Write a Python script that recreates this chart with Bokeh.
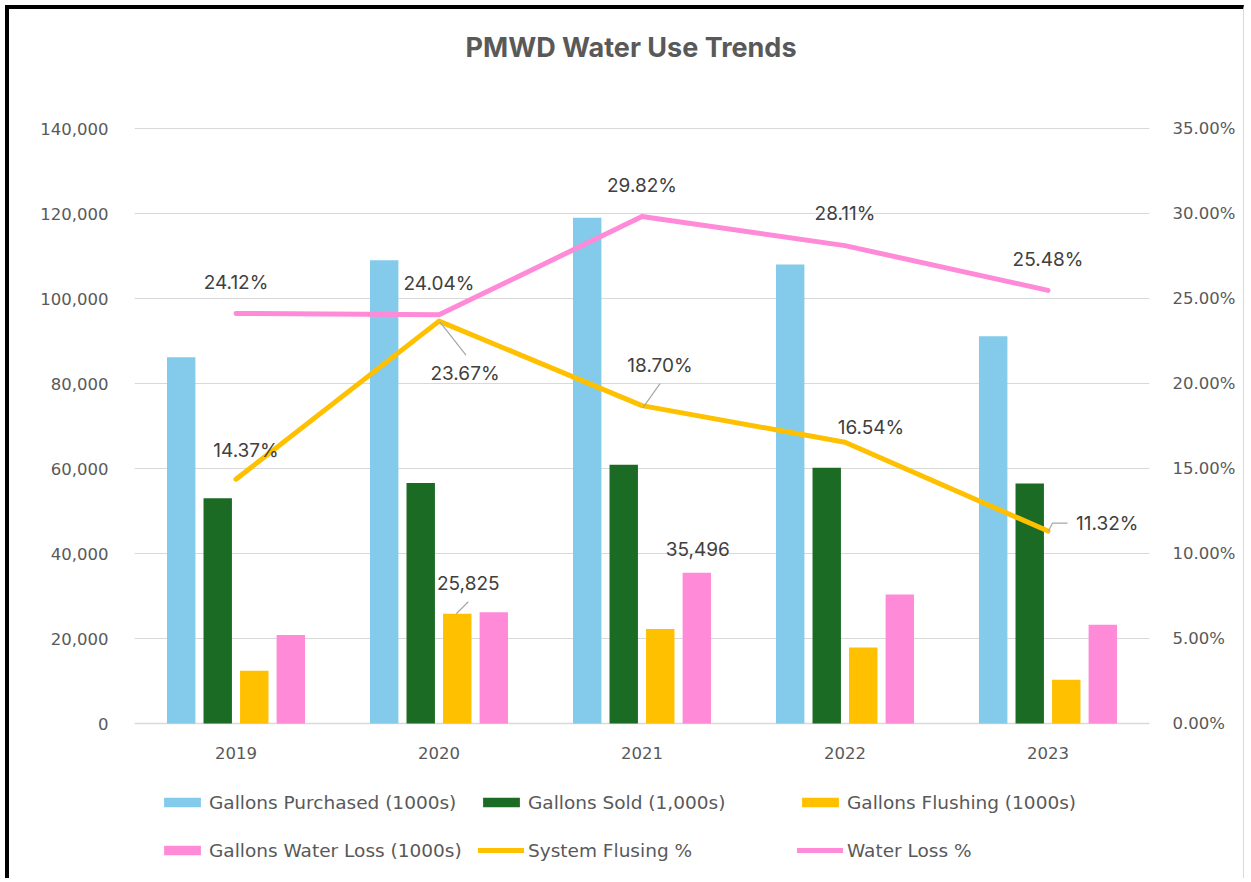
from bokeh.plotting import figure
from bokeh.models import (Range1d, LinearAxis, FixedTicker, NumeralTickFormatter,
                          PrintfTickFormatter, Legend, LegendItem)
from bokeh.embed import file_html
from bokeh.resources import INLINE
from bokeh.core.properties import value

# ---------------- data ----------------
YEARS = ["2019", "2020", "2021", "2022", "2023"]
PURCHASED = [86200, 109000, 119000, 108000, 91100]
SOLD = [53000, 56600, 60900, 60200, 56500]
FLUSHING = [12390, 25825, 22250, 17860, 10310]
WATER_LOSS = [20800, 26200, 35496, 30360, 23210]
FLUSH_PCT = [14.37, 23.67, 18.70, 16.54, 11.32]
LOSS_PCT = [24.12, 24.04, 29.82, 28.11, 25.48]
LEFT_TICKS = [0, 20000, 40000, 60000, 80000, 100000, 120000, 140000]
RIGHT_TICKS = [0, 5, 10, 15, 20, 25, 30, 35]

TITLE = "PMWD Water Use Trends"
SERIES_NAMES = ["Gallons Purchased (1000s)", "Gallons Sold (1,000s)",
                "Gallons Flushing (1000s)", "Gallons Water Loss (1000s)",
                "System Flusing %", "Water Loss %"]

# ---------------- style ----------------
C_BLUE = "#83CAEB"
C_GREEN = "#1B6B25"
C_GOLD = "#FFC000"
C_PINK = "#FF8AD8"
GRID = "#D9D9D9"
TXT = "#595959"
LBL = "#404040"
FONT_LBL = "Inter"
FONT_AX = "DejaVu Sans"

W, H = 1239, 873
FRAME_L, FRAME_R = 125, 1140          # frame spans full height of the canvas
PLOT_TOP_PX, PLOT_ZERO_PX = 119, 714  # pixel rows of 140,000 and 0
FRAME_W = FRAME_R - FRAME_L
X_MAX = len(YEARS)
Y_MAX = LEFT_TICKS[-1]
P_MAX = RIGHT_TICKS[-1]
PXX = X_MAX / FRAME_W                          # x units per pixel
PXV = Y_MAX / (PLOT_ZERO_PX - PLOT_TOP_PX)     # left-axis units per pixel
PXP = P_MAX / (PLOT_ZERO_PX - PLOT_TOP_PX)     # right-axis units per pixel
Y_HI = Y_MAX + PLOT_TOP_PX * PXV
Y_LO = -(H - PLOT_ZERO_PX) * PXV
P_HI = P_MAX + PLOT_TOP_PX * PXP
P_LO = -(H - PLOT_ZERO_PX) * PXP

BAR_OFF = [-0.27, -0.09, 0.09, 0.27]
BAR_W = 0.14

xs = [i + 0.5 for i in range(len(YEARS))]

p = figure(width=W, height=H, x_range=Range1d(0, X_MAX), y_range=Range1d(Y_LO, Y_HI),
           output_backend="svg", toolbar_location=None, x_axis_location=None,
           min_border_left=FRAME_L, min_border_right=W - FRAME_R,
           min_border_top=0, min_border_bottom=0)
p.extra_y_ranges = {"pct": Range1d(P_LO, P_HI)}
p.outline_line_color = None
p.background_fill_color = "white"
p.border_fill_color = "white"
p.styles = {"border-left": "4px solid black", "border-top": "4px solid black",
            "border-right": "1px solid #d9d9d9",
            "margin-left": "5px", "margin-top": "5px"}

# axes
TICK_FS = "16.5px"
ya = p.yaxis[0]
ya.ticker = FixedTicker(ticks=LEFT_TICKS)
ya.formatter = NumeralTickFormatter(format="0,0")
ya.axis_line_color = None
ya.major_tick_line_color = None
ya.minor_tick_line_color = None
ya.major_label_standoff = 20
ya.major_label_text_font = FONT_AX
ya.major_label_text_font_size = TICK_FS
ya.major_label_text_color = TXT

ra = LinearAxis(y_range_name="pct", ticker=FixedTicker(ticks=RIGHT_TICKS),
                formatter=PrintfTickFormatter(format="%.2f%%"))
ra.axis_line_color = None
ra.major_tick_line_color = None
ra.minor_tick_line_color = None
ra.major_label_standoff = 17
ra.major_label_text_font = FONT_AX
ra.major_label_text_font_size = TICK_FS
ra.major_label_text_color = TXT
p.add_layout(ra, "right")

p.xgrid.grid_line_color = None
p.ygrid.ticker = FixedTicker(ticks=LEFT_TICKS)
p.ygrid.grid_line_color = GRID
p.ygrid.grid_line_width = 1

# title (drawn as text above the value area)
p.text(x=[X_MAX / 2 - 11 * PXX], y=[Y_MAX + 81 * PXV], text=[TITLE],
       text_font=value(FONT_LBL), text_font_size="27px", text_font_style="bold",
       text_color=TXT, text_align="center", text_baseline="middle")

# category labels under the baseline
p.text(x=xs, y=[-29 * PXV] * len(xs), text=YEARS,
       text_font=value(FONT_AX), text_font_size=TICK_FS, text_color=TXT,
       text_align="center", text_baseline="middle")
p.segment(x0=[0], x1=[X_MAX], y0=[0], y1=[0], line_color=GRID, line_width=1.5)

# bars
renderers = []
for vals, off, col in zip([PURCHASED, SOLD, FLUSHING, WATER_LOSS], BAR_OFF,
                          [C_BLUE, C_GREEN, C_GOLD, C_PINK]):
    r = p.vbar(x=[x + off for x in xs], top=vals, width=BAR_W, bottom=0,
               fill_color=col, line_color=None)
    renderers.append(r)

# lines
rf = p.line(xs, FLUSH_PCT, y_range_name="pct", line_color=C_GOLD, line_width=5,
            line_cap="round", line_join="round")
rl = p.line(xs, LOSS_PCT, y_range_name="pct", line_color=C_PINK, line_width=5,
            line_cap="round", line_join="round")
renderers += [rf, rl]

# data labels (offsets in pixels: dx right, dy up)
LBL_FS = "19px"
LOSS_LBL_OFF = [(0, 31), (0, 31), (0, 31), (0, 32), (0, 31)]
FLUSH_LBL_OFF = [(10, 29), (26, -52), (18, 40), (26, 15), (28, 8)]
FLUSH_LBL_ALIGN = ["center", "center", "center", "center", "left"]


def fmt_pct(v):
    return f"{v:.2f}%"


p.text(x=[x + d[0] * PXX for x, d in zip(xs, LOSS_LBL_OFF)],
       y=[v + d[1] * PXP for v, d in zip(LOSS_PCT, LOSS_LBL_OFF)],
       text=[fmt_pct(v) for v in LOSS_PCT], y_range_name="pct",
       text_font=value(FONT_LBL), text_font_size=LBL_FS, text_color=LBL,
       text_align="center", text_baseline="middle")
for x, v, d, al in zip(xs, FLUSH_PCT, FLUSH_LBL_OFF, FLUSH_LBL_ALIGN):
    p.text(x=[x + d[0] * PXX], y=[v + d[1] * PXP], text=[fmt_pct(v)], y_range_name="pct",
           text_font=value(FONT_LBL), text_font_size=LBL_FS, text_color=LBL,
           text_align=al, text_baseline="middle")

# bar data labels: flushing 2020 and water loss 2021
bar_lbls = [(1, 2, FLUSHING[1], (11, 31)), (2, 3, WATER_LOSS[2], (1, 24))]
for yi, si, v, d in bar_lbls:
    bx = xs[yi] + BAR_OFF[si]
    p.text(x=[bx + d[0] * PXX], y=[v + d[1] * PXV], text=[f"{v:,.0f}"],
           text_font=value(FONT_LBL), text_font_size=LBL_FS, text_color=LBL,
           text_align="center", text_baseline="middle")

# leader lines (pixel paths relative to anchor: dx right, dy up)
LEADER = "#A6A6A6"
pct_leaders = [(1, FLUSH_PCT[1], [(1, -1), (27, -34)]),
               (2, FLUSH_PCT[2], [(1, -2), (18, 22)]),
               (4, FLUSH_PCT[4], [(0.5, 0), (4.5, 8), (19.5, 8)])]
p.multi_line(xs=[[xs[i] + a * PXX for a, b in pts] for i, v, pts in pct_leaders],
             ys=[[v + b * PXP for a, b in pts] for i, v, pts in pct_leaders],
             y_range_name="pct", line_color=LEADER, line_width=1.2)
bx = xs[1] + BAR_OFF[2]
p.multi_line(xs=[[bx + a * PXX for a, b in [(-1, 0), (11, 12)]]],
             ys=[[FLUSHING[1] + b * PXV for a, b in [(-1, 0), (11, 12)]]],
             line_color=LEADER, line_width=1.2)

# legend: six single-item legends placed on a 3 x 2 grid
LEG_COLS = [25, 344, 663]
LEG_ROWS = [68, 20]
for k, (name, r) in enumerate(zip(SERIES_NAMES, renderers)):
    lg = Legend(items=[LegendItem(label=name, renderers=[r])],
                location=(LEG_COLS[k % 3], LEG_ROWS[k // 3]),
                orientation="horizontal", glyph_width=46, glyph_height=12,
                label_standoff=4, padding=0, margin=0, spacing=0,
                border_line_color=None, background_fill_alpha=0,
                label_text_font=FONT_AX, label_text_font_size="18.5px",
                label_text_color=TXT, label_height=24)
    p.add_layout(lg, "center")

open("out.html", "w").write(file_html(p, INLINE))
